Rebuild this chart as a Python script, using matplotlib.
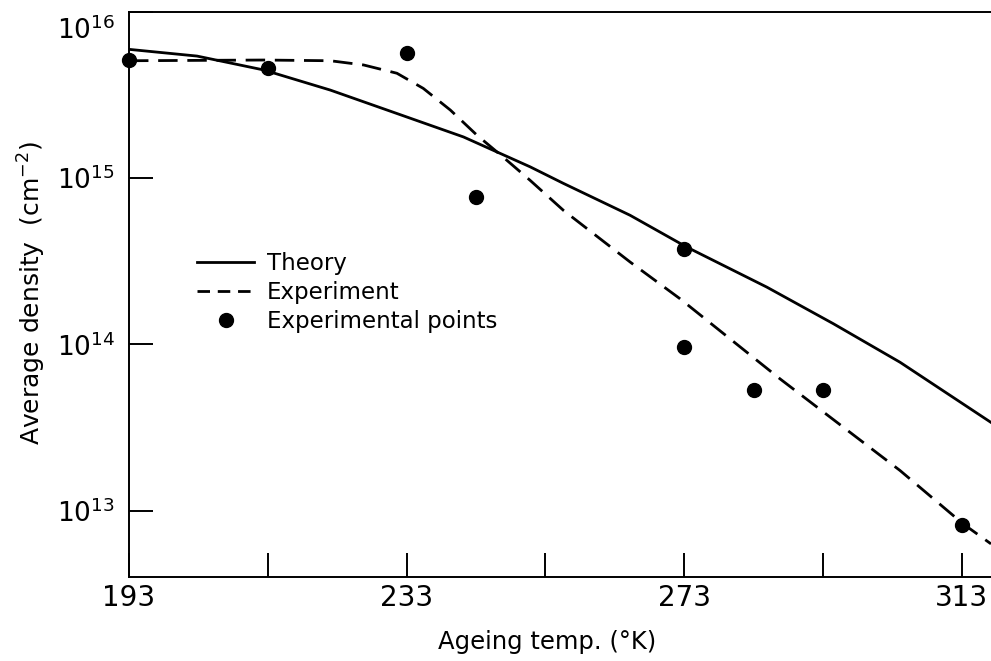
import numpy as np
import matplotlib.pyplot as plt
import matplotlib.transforms as mtransforms
from matplotlib.lines import Line2D

# ==========================================
# Datos
# ==========================================
theory_x = [193, 202.8, 212.4, 222.0, 231.6, 241.2, 250.8, 255.6, 265.2, 273.3, 284.9, 294.5, 304.1, 317.2]
theory_y = [5.96e15, 5.43e15, 4.48e15, 3.39e15, 2.45e15, 1.77e15, 1.17e15, 9.3e14, 5.98e14, 3.86e14,
            2.21e14, 1.33e14, 7.8e13, 3.39e13]

exp_x = [193, 212.4, 222.0, 226.8, 231.6, 235.4, 239.3, 243.1, 246.9, 250.8, 255.6, 265.2, 272.4,
         286.8, 304.1, 313.2, 317.2]
exp_y = [5.09e15, 5.14e15, 5.09e15, 4.8e15, 4.28e15, 3.47e15, 2.57e15, 1.82e15, 1.34e15, 9.7e14,
         6.4e14, 3.13e14, 1.88e14, 6.2e13, 1.74e13, 8.3e12, 6.3e12]

pts_x = [193, 213, 233, 243, 273, 273, 283, 293, 313]
pts_y = [5.15e15, 4.62e15, 5.64e15, 7.7e14, 3.73e14, 9.6e13, 5.33e13, 5.33e13, 8.2e12]

xticks_major = [193, 233, 273, 313]
xticks_minor = [213, 253, 293]
yticks = [1e13, 1e14, 1e15, 1e16]
ytick_labels = [r'$10^{13}$', r'$10^{14}$', r'$10^{15}$', r'$10^{16}$']

plt.rcParams['font.family'] = ['DejaVu Sans']
plt.rcParams['mathtext.fontset'] = 'dejavusans'

fig = plt.figure(figsize=(9.91, 6.61), dpi=100)
ax = fig.add_axes([129 / 991, 84 / 661, 862 / 991, 565 / 661])

# Curvas y puntos
ax.plot(theory_x, theory_y, 'k-', linewidth=2.0)
ax.plot(exp_x, exp_y, 'k-', linewidth=2.0, dashes=(7, 3.5))
ax.plot(pts_x, pts_y, 'ko', markersize=10, clip_on=False, zorder=5)

ax.set_yscale('log')
ax.set_xlim(193, 317.2)
ax.set_ylim(10 ** 12.6, 1e16)

ax.set_xticks(xticks_major)
ax.set_xticklabels([str(t) for t in xticks_major])
ax.set_xticks(xticks_minor, minor=True)
ax.set_yticks(yticks)
ax.set_yticklabels(ytick_labels)
ax.yaxis.set_minor_locator(plt.NullLocator())

ax.tick_params(axis='x', which='both', direction='in', length=17, width=1.4, labelsize=20, pad=5)
ax.tick_params(axis='y', which='major', direction='in', length=17, width=1.4, labelsize=19, pad=10)

# En el original la etiqueta 10^16 queda algo por debajo del borde superior
lbl_top = ax.get_yticklabels()[-1]
lbl_top.set_transform(lbl_top.get_transform() + mtransforms.ScaledTranslation(0, -16 / 100, fig.dpi_scale_trans))

for s in ['left', 'bottom', 'top']:
    ax.spines[s].set_linewidth(1.4)
ax.spines['right'].set_visible(False)

ax.set_xlabel('Ageing temp. (°K)', fontsize=17.5)
ax.xaxis.set_label_coords(0.4855, -0.094)
ax.set_ylabel(r'Average density  (cm$^{-2}$)', fontsize=18)
ax.yaxis.set_label_coords(-0.094, 0.502)

handles = [Line2D([], [], color='k', linewidth=2.0),
           Line2D([], [], color='k', linewidth=2.0, dashes=(4.5, 2.8)),
           Line2D([], [], color='k', marker='o', markersize=10, linestyle='none')]
ax.legend(handles, ['Theory', 'Experiment', 'Experimental points'], loc='center left',
          bbox_to_anchor=(0.079, 0.5035), frameon=False, fontsize=16.5, handlelength=2.5,
          handletextpad=0.55, labelspacing=0.25, borderpad=0, borderaxespad=0)

fig.savefig('out.png', dpi=100)
